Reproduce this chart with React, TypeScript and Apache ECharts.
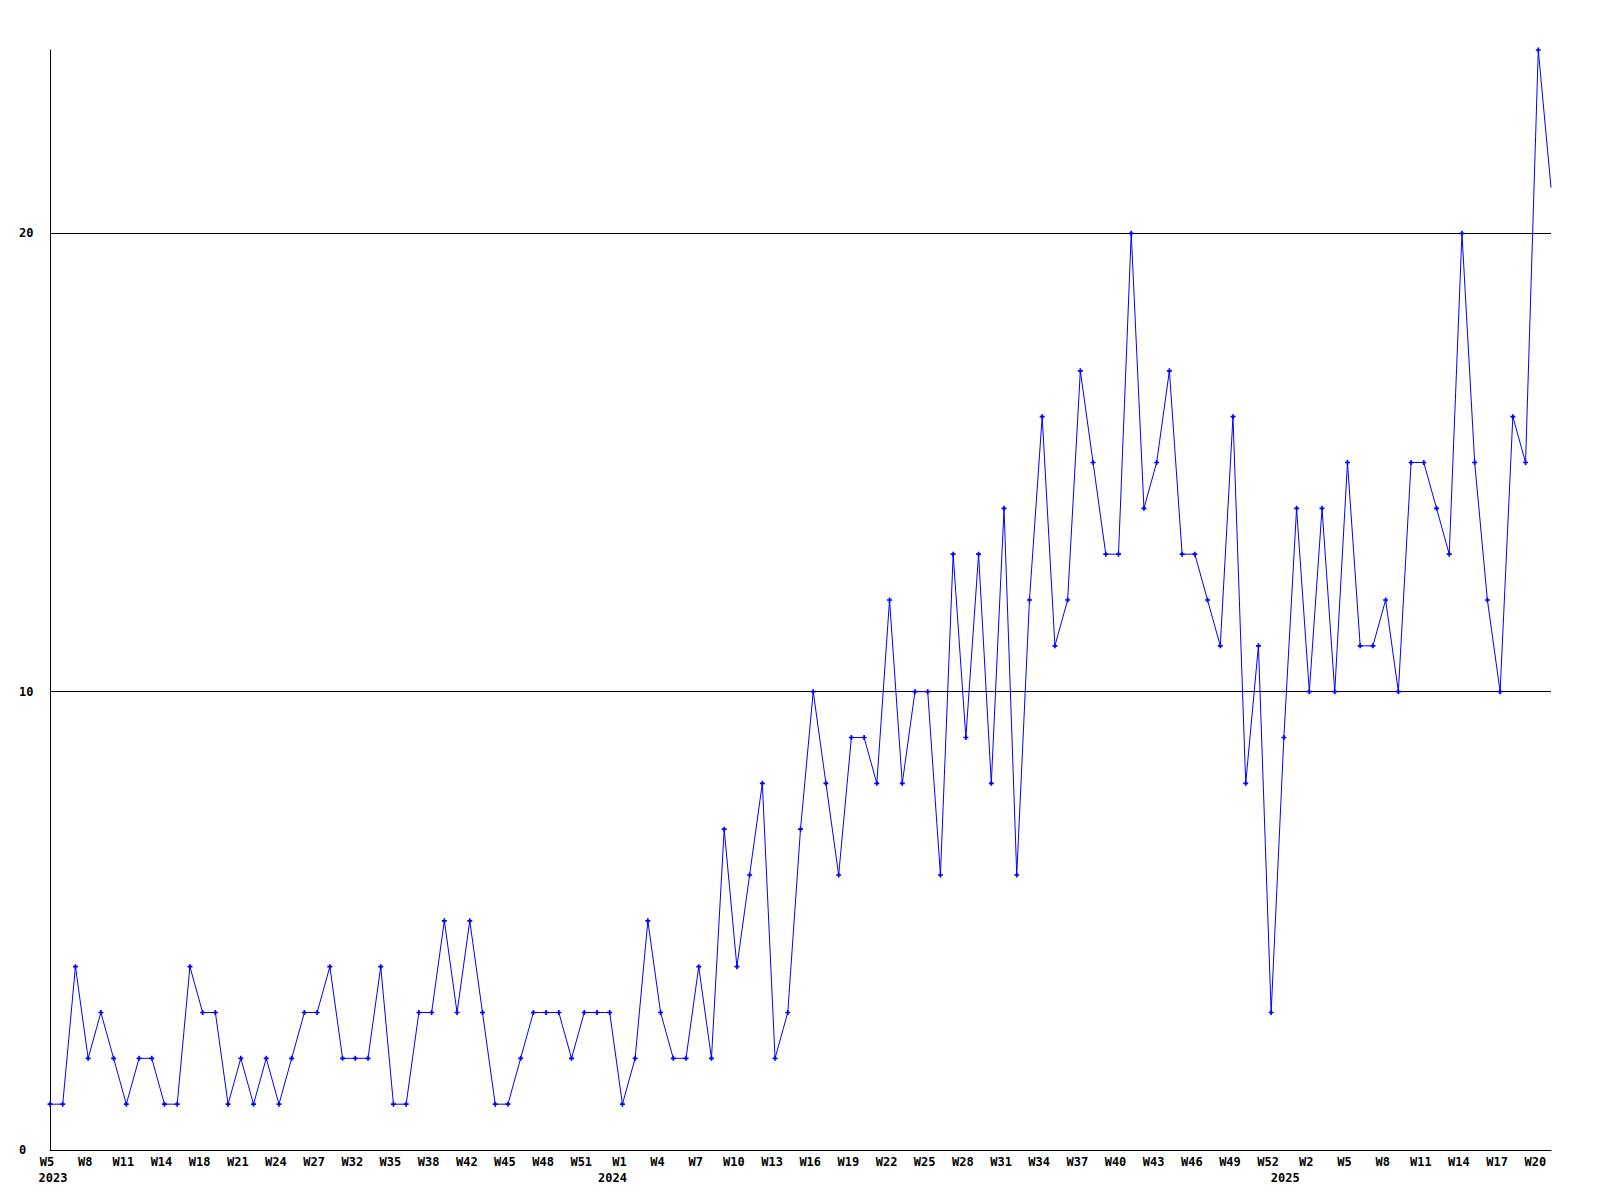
import React, { useEffect, useRef } from "react";
import * as echarts from "echarts";

// Week categories (evenly spaced points), grouped by year
const weeks2023 = [
  "W5", "W6", "W7", "W8", "W9", "W10", "W11", "W12", "W13", "W14",
  "W16", "W17", "W18", "W19", "W20", "W21", "W22", "W23", "W24", "W25",
  "W26", "W27", "W29", "W30", "W32", "W33", "W34", "W35", "W36", "W37",
  "W38", "W40", "W41", "W42", "W43", "W44", "W45", "W46", "W47", "W48",
  "W49", "W50", "W51", "W52", "W53",
];
const weeks2024 = [
  "W1", "W2", "W3", "W4", "W5", "W6", "W7", "W8", "W9", "W10",
  "W11", "W12", "W13", "W14", "W15", "W16", "W17", "W18", "W19", "W20",
  "W21", "W22", "W23", "W24", "W25", "W26", "W27", "W28", "W29", "W30",
  "W31", "W32", "W33", "W34", "W35", "W36", "W37", "W38", "W39", "W40",
  "W41", "W42", "W43", "W44", "W45", "W46", "W47", "W48", "W49", "W50",
  "W51", "W52", "W53",
];
const weeks2025 = [
  "W1", "W2", "W3", "W4", "W5", "W6", "W7", "W8", "W9", "W10",
  "W11", "W12", "W13", "W14", "W15", "W16", "W17", "W18", "W19", "W20",
  "W21",
];

const values2023 = [
  1, 1, 4, 2, 3, 2, 1, 2, 2, 1,
  1, 4, 3, 3, 1, 2, 1, 2, 1, 2,
  3, 3, 4, 2, 2, 2, 4, 1, 1, 3,
  3, 5, 3, 5, 3, 1, 1, 2, 3, 3,
  3, 2, 3, 3, 3,
];
const values2024 = [
  1, 2, 5, 3, 2, 2, 4, 2, 7, 4,
  6, 8, 2, 3, 7, 10, 8, 6, 9, 9,
  8, 12, 8, 10, 10, 6, 13, 9, 13, 8,
  14, 6, 12, 16, 11, 12, 17, 15, 13, 13,
  20, 14, 15, 17, 13, 13, 12, 11, 16, 8,
  11, 3, 9,
];
const values2025 = [
  14, 10, 14, 10, 15, 11, 11, 12, 10, 15,
  15, 14, 13, 20, 15, 12, 10, 16, 15, 24,
  21,
];

const years = ["2023", "2024", "2025"];
const yTicks = [0, 10, 20];

const FONT = "'DejaVu Sans Mono', 'Liberation Mono', monospace";
const LABEL_STEP = 3;

export default function App() {
  const ref = useRef<HTMLDivElement>(null);

  useEffect(() => {
    if (!ref.current) return;
    const chart = echarts.init(ref.current, null, { renderer: "svg" });

    const groups = [weeks2023, weeks2024, weeks2025];
    const categories: string[] = [];
    const yearOf: string[] = [];
    groups.forEach((g, gi) => {
      g.forEach((w) => {
        categories.push(w);
        yearOf.push(years[gi]);
      });
    });
    const values = [...values2023, ...values2024, ...values2025];
    const lastLabelIdx = Math.floor((categories.length - 2) / LABEL_STEP) * LABEL_STEP;

    const shown = (i: number) => i % LABEL_STEP === 0 && i <= lastLabelIdx;
    // first shown label of each year carries the year below
    const yearLabelAt: Record<number, string> = {};
    const seen: Record<string, boolean> = {};
    for (let i = 0; i < categories.length; i++) {
      if (shown(i) && !seen[yearOf[i]]) {
        seen[yearOf[i]] = true;
        yearLabelAt[i] = yearOf[i];
      }
    }

    const data = values.map((v, i) =>
      i === values.length - 1 ? { value: v, symbol: "none" } : v
    );

    const baseText = {
      fontFamily: FONT,
      fontWeight: "bold" as const,
      fontSize: 12,
      color: "#000",
      lineHeight: 16,
    };

    chart.setOption({
      animation: false,
      backgroundColor: "#fff",
      grid: { left: 50, right: 49, top: 50, bottom: 50 },
      xAxis: {
        type: "category",
        data: categories,
        boundaryGap: false,
        axisLine: { show: true, lineStyle: { color: "#000", width: 1 } },
        axisTick: { show: false },
        splitLine: { show: false },
        axisLabel: {
          ...baseText,
          margin: 4,
          interval: (i: number) => shown(i),
          formatter: (val: string, i: number) => {
            const y = yearLabelAt[i];
            if (!y) return `{w|${val}}`;
            return `{w|${val}}\n{y${y}|${y}}`;
          },
          rich: {
            w: { ...baseText, padding: [0, 6, 0, 0] },
            y2023: { ...baseText, padding: [0, 0, 0, 6] },
            y2024: { ...baseText, padding: [0, 20, 0, 0] },
            y2025: { ...baseText, padding: [0, 48, 0, 0] },
          },
        },
      },
      yAxis: {
        type: "value",
        min: yTicks[0],
        max: 24,
        interval: yTicks[1] - yTicks[0],
        axisLine: { show: true, lineStyle: { color: "#000", width: 1 } },
        axisTick: { show: false },
        axisLabel: {
          ...baseText,
          align: "left",
          margin: 31,
          showMaxLabel: false,
        },
        splitLine: {
          show: true,
          showMinLine: false,
          showMaxLine: false,
          lineStyle: { color: "#000", width: 1 },
        },
      },
      series: [
        {
          type: "line",
          data,
          symbol: "path://M2,0H4V2H6V4H4V6H2V4H0V2H2Z",
          symbolSize: 5,
          showAllSymbol: true,
          lineStyle: { color: "#0000ff", width: 1 },
          itemStyle: { color: "#0000ff" },
        },
      ],
    });

    return () => chart.dispose();
  }, []);

  return (
    <div
      ref={ref}
      style={{ position: "absolute", left: 0, top: 0, width: 1600, height: 1200, background: "#fff" }}
    />
  );
}
